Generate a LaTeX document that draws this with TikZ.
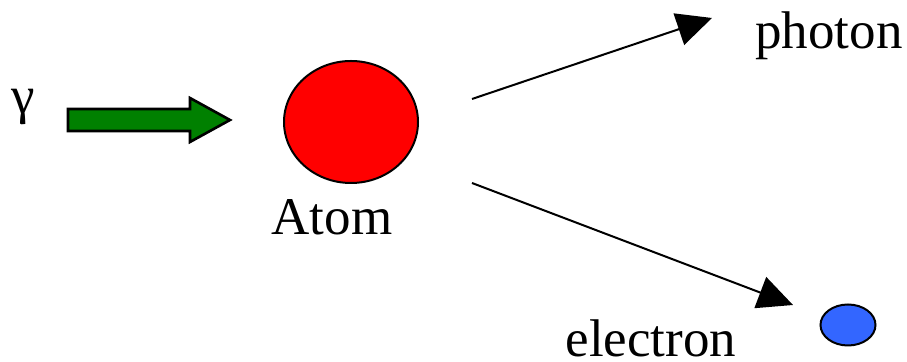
\documentclass[tikz,border=0pt]{standalone}
\usepackage{fontspec}
\setmainfont{Liberation Serif}
\usetikzlibrary{arrows.meta,shapes.geometric}
\definecolor{gammagreen}{RGB}{0,128,0}
\definecolor{atomred}{RGB}{255,0,0}
\definecolor{elecblue}{RGB}{51,102,255}

\begin{document}
\begin{tikzpicture}[x=0.5pt,y=-0.5pt,>={Triangle[length=17.5pt,width=16.5pt]},
  lbl/.style={font=\fontsize{26.5}{30}\selectfont,inner sep=0pt,anchor=base},
  blob/.style={ellipse,draw=black,line width=1pt,inner sep=0pt}]
  \useasboundingbox (0,0) rectangle (907,362);

  \fill[gammagreen,draw=black,line width=1.3pt,line join=miter]
    (68,109) -- (190,109) -- (190,98) -- (230,120)
    -- (190,142) -- (190,131) -- (68,131) -- cycle;

  \node[blob,fill=atomred,minimum width=67pt,minimum height=61pt] (atom) at (351,122) {};
  \node[blob,fill=elecblue,minimum width=27.5pt,minimum height=20.5pt] (elec) at (848,325) {};

  \node[lbl] (gamma) at (23,114) {γ};
  \node[lbl] (atomlbl) at (332,235) {Atom};
  \node[lbl] (photon) at (829,49) {photon};
  \node[lbl] (electron) at (651,357) {electron};

  \coordinate (ph0) at (472,99);
  \coordinate (ph1) at (712,18);
  \coordinate (el0) at (472,183);
  \coordinate (el1) at (793,305);

  \draw[->,line width=1pt] (ph0) -- (ph1);
  \draw[->,line width=1pt] (el0) -- (el1);
\end{tikzpicture}
\end{document}
